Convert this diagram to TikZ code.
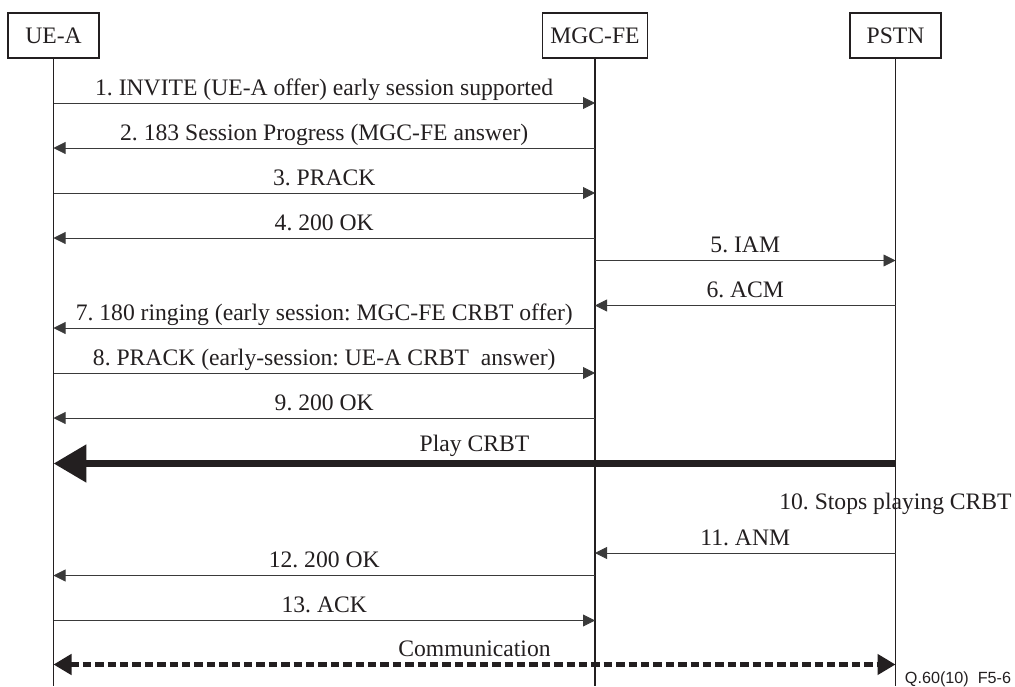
\documentclass[tikz,border=0pt]{standalone}
\usepackage{xcolor}
\usepackage{fontspec}
\setmainfont{Liberation Serif}
\newfontfamily\figidfont{Liberation Sans}
\usepackage{tikz}
\usetikzlibrary{arrows.meta}
\definecolor{ink}{HTML}{231F20}
\definecolor{wire}{HTML}{3A3A3A}
\frenchspacing

\begin{document}
\begin{tikzpicture}[x=0.025cm, y=-0.025cm,
  entity/.style={draw=ink, line width=1pt, minimum width=2.275cm, minimum height=1.125cm, inner xsep=0.2cm, text=ink, font=\fontsize{16.8}{20}\selectfont},
  lifeline/.style={draw=ink, line width=0.9pt},
  msg/.style={draw=wire, line width=0.6pt, -{Triangle[length=0.3cm, width=0.3cm]}},
  playmsg/.style={draw=ink, line width=0.19cm, -{Triangle[length=0.82cm, width=0.9cm]}},
  commmsg/.style={draw=ink, line width=0.12cm, dash pattern=on 0.21cm off 0.1cm, {Triangle[length=0.45cm, width=0.5cm]}-{Triangle[length=0.45cm, width=0.5cm]}},
  lbl/.style={anchor=base, yshift=0.2cm, text=ink, font=\fontsize{16.8}{20}\selectfont},
  biglbl/.style={lbl, yshift=0.1cm}]%
\useasboundingbox (0,0) rectangle (1015,686);%
\node[entity] (ue) at (53.5, 35.5) {UE-A};%
\node[entity] (mgc) at (595, 35.5) {MGC-FE};%
\node[entity] (pstn) at (895.5, 35.5) {PSTN};%
\coordinate (ue-end) at (53.5, 686);%
\coordinate (mgc-end) at (595, 686);%
\coordinate (pstn-end) at (895.5, 686);%
\draw[lifeline] (ue) -- (ue-end);%
\draw[lifeline] (mgc) -- (mgc-end);%
\draw[lifeline] (pstn) -- (pstn-end);%
\foreach \n/\y in {1/103, 2/148, 3/193, 4/238, 5/260.5, 6/305.5, 7/328, 8/373, 9/418, play/463.5, 10/509, 11/553, 12/575.5, 13/620.5, comm/664.5} {%
  \coordinate (ue-\n) at (ue |- 0,\y);%
  \coordinate (mgc-\n) at (mgc |- 0,\y);%
  \coordinate (pstn-\n) at (pstn |- 0,\y);%
}%
\draw[msg] (ue-1) -- node[lbl] {1. INVITE (UE-A offer) early session supported} (mgc-1);%
\draw[msg] (mgc-2) -- node[lbl] {2. 183 Session Progress (MGC-FE answer)} (ue-2);%
\draw[msg] (ue-3) -- node[lbl] {3. PRACK} (mgc-3);%
\draw[msg] (mgc-4) -- node[lbl] {4. 200 OK} (ue-4);%
\draw[msg] (mgc-5) -- node[lbl] {5. IAM} (pstn-5);%
\draw[msg] (pstn-6) -- node[lbl] {6. ACM} (mgc-6);%
\draw[msg] (mgc-7) -- node[lbl] {7. 180 ringing (early session: MGC-FE CRBT offer)} (ue-7);%
\draw[msg] (ue-8) -- node[lbl] {8. PRACK (early-session: UE-A CRBT\ \ answer)} (mgc-8);%
\draw[msg] (mgc-9) -- node[lbl] {9. 200 OK} (ue-9);%
\draw[playmsg] (pstn-play) -- node[biglbl] {Play CRBT} (ue-play);%
\node[anchor=base, text=ink, font=\fontsize{16.8}{20}\selectfont] (stop) at (pstn-10) {10. Stops playing CRBT};%
\draw[msg] (pstn-11) -- node[lbl] {11. ANM} (mgc-11);%
\draw[msg] (mgc-12) -- node[lbl] {12. 200 OK} (ue-12);%
\draw[msg] (ue-13) -- node[lbl] {13. ACK} (mgc-13);%
\draw[commmsg] (ue-comm) -- node[lbl] {Communication} (pstn-comm);%
\node[anchor=base, text=ink, font=\figidfont\fontsize{11.5}{13}\selectfont] (figid) at (958, 683) {Q.60(10)\ \ F5-6};%
\end{tikzpicture}
\end{document}
